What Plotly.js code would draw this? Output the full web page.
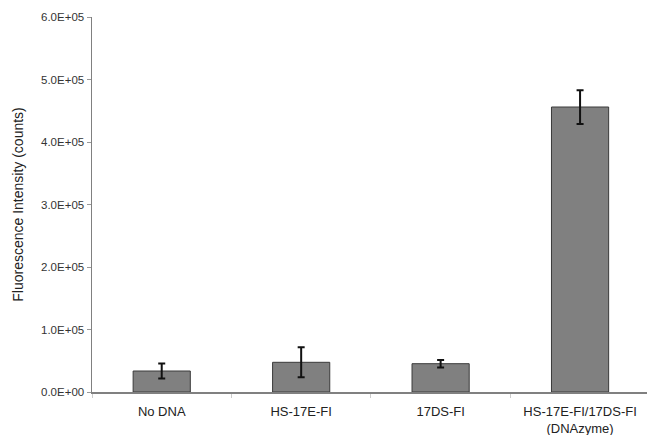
<!DOCTYPE html>
<html>
<head>
<meta charset="utf-8">
<script src="https://cdn.plot.ly/plotly-3.0.1.min.js"></script>
<style>html,body{margin:0;padding:0;background:#fff;}#chart{width:647px;height:435px;}</style>
</head>
<body>
<div id="chart"></div>
<script>
var categories = ["No DNA", "HS-17E-FI", "17DS-FI", "HS-17E-FI/17DS-FI<br>(DNAzyme)"];
var values = [33600, 47500, 45300, 456000];
var errors = [12000, 24000, 6000, 27000];
var yTickVals = [0, 100000, 200000, 300000, 400000, 500000, 600000];
var yTickText = ["0.0E+00", "1.0E+05", "2.0E+05", "3.0E+05", "4.0E+05", "5.0E+05", "6.0E+05"];

var trace = {
  type: "bar",
  x: categories,
  y: values,
  width: 0.41,
  marker: {color: "#808080", line: {color: "#3a3a3a", width: 1}},
  error_y: {type: "data", array: errors, visible: true, color: "#111", thickness: 2, width: 3.5}
};

var layout = {
  width: 647, height: 435,
  margin: {l: 92, r: 0, t: 17, b: 43},
  paper_bgcolor: "#fff", plot_bgcolor: "#fff",
  showlegend: false,
  font: {family: "Liberation Sans, Arial, sans-serif", color: "#222"},
  xaxis: {
    type: "category",
    range: [-0.5, 3.48],
    showline: true, linecolor: "#808080", linewidth: 1.5,
    ticks: "outside", tickson: "boundaries", ticklen: 4, tickcolor: "#ccc",
    ticklabelstandoff: 7,
    tickfont: {size: 13, color: "#222"},
    showgrid: false, zeroline: false
  },
  yaxis: {
    range: [0, 600000],
    tickvals: yTickVals, ticktext: yTickText,
    showline: true, linecolor: "#808080", linewidth: 1.5,
    ticks: "outside", ticklen: 4, tickcolor: "#999",
    tickfont: {size: 11.5, color: "#333"},
    showgrid: false, zeroline: false,
    title: {text: "Fluorescence Intensity (counts)", font: {size: 14, color: "#222"}, standoff: 14}
  }
};

Plotly.newPlot("chart", [trace], layout, {displayModeBar: false, staticPlot: true});
</script>
</body>
</html>
